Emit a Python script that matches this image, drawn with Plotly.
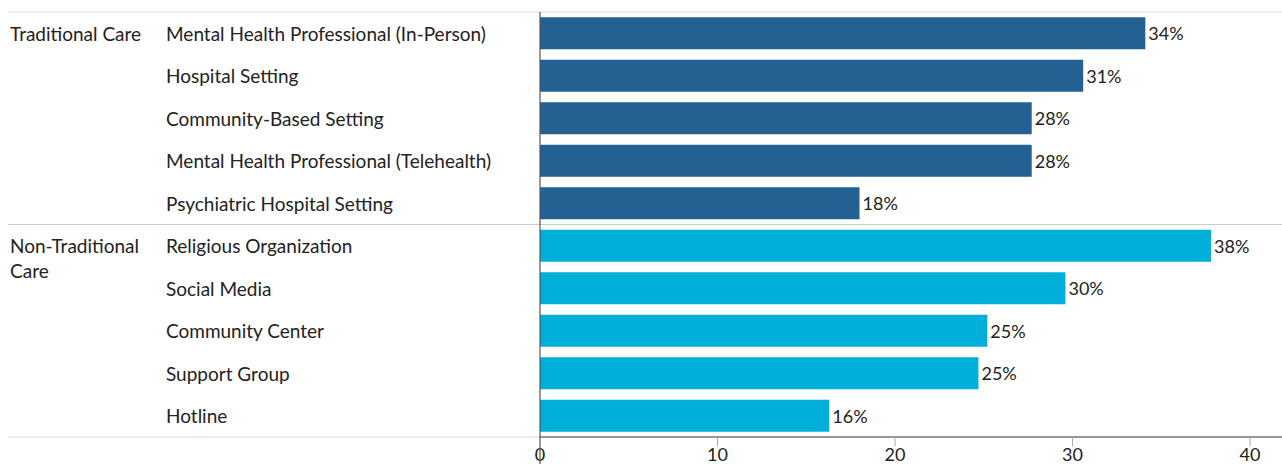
import plotly.graph_objects as go

categories = ["Mental Health Professional (In-Person)", "Hospital Setting", "Community-Based Setting",
              "Mental Health Professional (Telehealth)", "Psychiatric Hospital Setting",
              "Religious Organization", "Social Media", "Community Center", "Support Group", "Hotline"]
values = [34.1, 30.6, 27.7, 27.7, 18.0, 37.8, 29.6, 25.2, 24.7, 16.3]
labels = ["34%", "31%", "28%", "28%", "18%", "38%", "30%", "25%", "25%", "16%"]
groups = ["Traditional Care"] * 5 + ["Non-Traditional Care"] * 5
group_names = ["Traditional Care", "Non-Traditional<br>Care"]
colors = {"Traditional Care": "#236192", "Non-Traditional Care": "#00AFDA"}
tick_vals = [0, 10, 20, 30, 40]

FONT = "Lato"
PW = 742.0
def px(x):
    return (x - 540) / PW

fig = go.Figure()
fig.add_trace(go.Bar(
    y=categories, x=values, orientation="h",
    marker=dict(color=[colors[g] for g in groups], line=dict(width=0)),
    text=labels, textposition="outside", cliponaxis=False,
    textfont=dict(family=FONT, size=18, color="#222"),
    hoverinfo="skip",
))

for i, c in enumerate(categories):
    fig.add_annotation(x=px(164), xref="paper", y=c, yref="y", text=c, showarrow=False,
                       xanchor="left", yanchor="middle", font=dict(family=FONT, size=19, color="#222"))
fig.add_annotation(x=px(8), xref="paper", y=categories[0], yref="y", text=group_names[0],
                   showarrow=False, xanchor="left", yanchor="middle", font=dict(family=FONT, size=19, color="#222"))
fig.add_annotation(x=px(8), xref="paper", y=categories[5], yref="y", text=group_names[1],
                   showarrow=False, xanchor="left", yanchor="top", yshift=14, align="left",
                   font=dict(family=FONT, size=19, color="#222"))

# horizontal rules
for yv, col in [(1, "#dddddd"), (0.5, "#cccccc"), (0, "#dddddd")]:
    fig.add_shape(type="line", xref="paper", yref="paper", x0=px(8), x1=1, y0=yv, y1=yv,
                  line=dict(color=col, width=1.2))
fig.add_shape(type="line", xref="paper", yref="paper", x0=0, x1=1, y0=0, y1=0,
              line=dict(color="#777", width=1.5))
fig.add_shape(type="line", xref="paper", yref="paper", x0=0, x1=0, y0=1, y1=-0.07,
              line=dict(color="#555", width=1.2))
# tick marks
for tv in tick_vals[1:]:
    fig.add_shape(type="line", xref="x", yref="paper", x0=tv, x1=tv, y0=0, y1=-0.022,
                  line=dict(color="#aaa", width=1))

fig.update_layout(
    width=1282, height=464, margin=dict(l=540, r=0, t=12, b=27, autoexpand=False),
    plot_bgcolor="white", paper_bgcolor="white", showlegend=False, bargap=0.25,
    xaxis=dict(range=[0, 41.8], tickvals=tick_vals, ticks="", ticklabelstandoff=5,
               showgrid=False, zeroline=False, showline=False, automargin=False,
               tickfont=dict(family=FONT, size=18, color="#222")),
    yaxis=dict(categoryorder="array", categoryarray=categories, autorange="reversed",
               showticklabels=False, showgrid=False, zeroline=False, showline=False, automargin=False),
)
fig.write_html("out.html")
